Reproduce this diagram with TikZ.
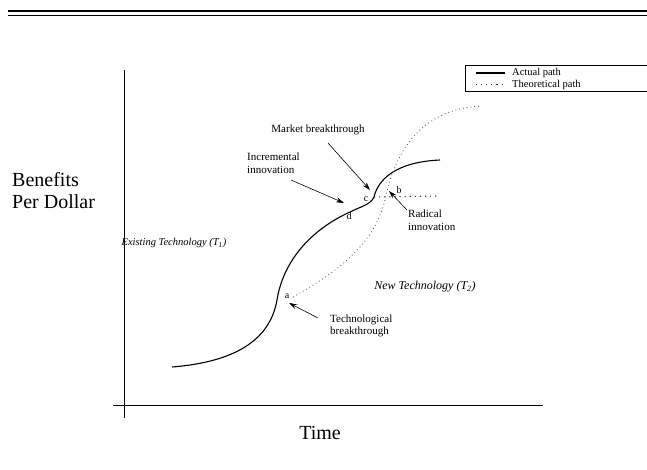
\documentclass[tikz,border=0pt]{standalone}
\usepackage{fontspec}
\setmainfont{Liberation Serif}
\usetikzlibrary{arrows.meta}
\begin{document}
\begin{tikzpicture}[x=1pt,y=-1pt,
  actual/.style={line width=1.1pt},
  theory/.style={line width=0.8pt, dash pattern=on 0.8pt off 3pt, black!70},
  theorydark/.style={line width=1.1pt, dash pattern=on 1.1pt off 4pt, black!85},
  axisline/.style={line width=0.7pt},
  pointer/.style={line width=0.6pt, -{Stealth[length=8pt,width=5pt]}},
  lbl/.style={font=\fontsize{11}{12.5}\selectfont, inner sep=0pt},
  leg/.style={font=\fontsize{10.5}{12}\selectfont, inner sep=0pt, anchor=west},
  big/.style={font=\fontsize{20}{24}\selectfont, inner sep=0pt},
  pt/.style={font=\fontsize{10}{12}\selectfont, inner sep=0pt}]
\useasboundingbox (0,0) rectangle (647,469);
% top double rule
\draw[line width=1.3pt] (8,11) -- (647,11);
\draw[line width=1.3pt] (8,15.5) -- (647,15.5);
% legend
\draw[line width=0.6pt] (647,65) -- (465,65) -- (465,91.5) -- (647,91.5);
\coordinate (ls1) at (476,73); \coordinate (ls2) at (505,73);
\coordinate (lt1) at (476,84.5); \coordinate (lt2) at (505,84.5);
\draw[actual] (ls1) -- (ls2);
\draw[theorydark] (lt1) -- (lt2);
\node[leg] (la) at (512,73) {Actual path};
\node[leg] (lb) at (512,84.5) {Theoretical path};
% axes
\coordinate (ytop) at (124,70); \coordinate (ybot) at (124,418);
\coordinate (xl) at (113,405); \coordinate (xr) at (543,405);
\draw[axisline] (ytop) -- (ybot);
\draw[axisline] (xl) -- (xr);
\node[big, anchor=west] (ben) at (12,180) {Benefits};
\node[big, anchor=west] (per) at (12,202) {Per Dollar};
\node[big] (time) at (320,433) {Time};
% curves
\coordinate (start) at (172,367);
\coordinate (cpt) at (374,197);
\draw[actual] (start) .. controls (235,362) and (270,340) .. (277,300)
  .. controls (283,262) and (310,230) .. (350,212)
  .. controls (362,206) and (370,205) .. (cpt)
  .. controls (378,180) and (395,162) .. (440,160);
\coordinate (dend) at (440,196);
\draw[theorydark] (cpt) -- (dend);
\coordinate (apt) at (293,297);
\draw[theory] (apt) .. controls (345,268) and (375,240) .. (385,200)
  .. controls (393,160) and (415,110) .. (480,106);
% point labels
\node[pt] (a) at (287,296) {a};
\node[pt] (b) at (399,190) {b};
\node[pt] (c) at (366,199) {c};
\node[pt] (d) at (349,216) {d};
% labels
\node[lbl] (mb) at (318,130) {Market breakthrough};
\node[lbl, anchor=west, align=left] (inc) at (247,163) {Incremental\\innovation};
\node[lbl, anchor=west, align=left] (rad) at (408,220) {Radical\\innovation};
\node[lbl, anchor=west, align=left] (tb) at (330,326) {Technological\\breakthrough};
\node[lbl, font=\fontsize{10.5}{13}\selectfont\itshape] (t1) at (174,243) {Existing Technology (\textit{T}\textsubscript{\textit{1}})};
\node[lbl, font=\fontsize{12}{14}\selectfont\itshape] (t2) at (425,287) {New Technology (\textit{T}\textsubscript{2})};
% pointers
\coordinate (mbt) at (370,190);
\coordinate (inct) at (344,203);
\coordinate (radt) at (389,191);
\coordinate (tbt) at (289,303);
\draw[pointer] (328,143) -- (mbt);
\draw[pointer] (291,180) -- (inct);
\draw[pointer] (407,210) -- (radt);
\draw[pointer] (318,318) -- (tbt);
\end{tikzpicture}
\end{document}
